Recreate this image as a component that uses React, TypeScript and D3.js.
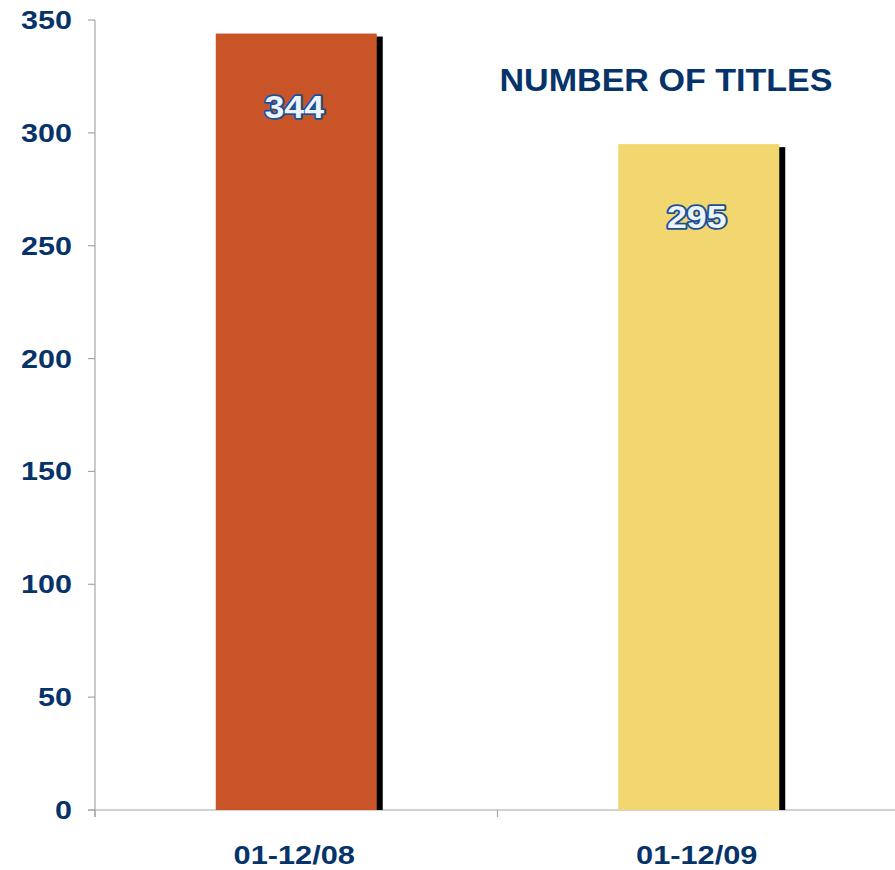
import React, { useRef, useEffect } from "react";
import * as d3 from "d3";

const categories = ["01-12/08", "01-12/09"];
const values = [344, 295];
const barColors = ["#C85428", "#F2D66F"];
const yTicks = [0, 50, 100, 150, 200, 250, 300, 350];
const title = "NUMBER OF TITLES";

const width = 895;
const height = 870;
const navy = "#06346A";
const font = "'Liberation Sans', Arial, sans-serif";

const App: React.FC = () => {
  const svgRef = useRef<SVGSVGElement | null>(null);

  useEffect(() => {
    const svg = d3.select(svgRef.current);
    svg.selectAll("*").remove();

    const x0 = 95;
    const x1 = 900;
    const y = d3.scaleLinear().domain([0, 350]).range([810, 20]);
    const x = d3
      .scaleBand<string>()
      .domain(categories)
      .range([x0, x1])
      .paddingInner(0.6)
      .paddingOuter(0.3);

    // stretch text horizontally like the original
    const stretch = (sel: d3.Selection<SVGTextElement, any, any, any>, k: number) => {
      sel.each(function () {
        const w = this.getComputedTextLength();
        d3.select(this)
          .attr("textLength", w * k)
          .attr("lengthAdjust", "spacingAndGlyphs");
      });
    };

    // axes
    const axis = svg.append("g").attr("stroke", "#A6A6A6").attr("stroke-width", 1.2);
    axis.append("line").attr("x1", x0).attr("x2", x0).attr("y1", y(350)).attr("y2", 817);
    axis.append("line").attr("x1", 88).attr("x2", width).attr("y1", y(0)).attr("y2", y(0));
    yTicks.forEach((t) => {
      axis.append("line").attr("x1", 88).attr("x2", x0).attr("y1", y(t)).attr("y2", y(t));
    });
    [x0, x0 + (x1 - x0) / 2].forEach((tx) => {
      axis.append("line").attr("x1", tx).attr("x2", tx).attr("y1", y(0)).attr("y2", 817);
    });

    const yl = svg
      .append("g")
      .selectAll("text")
      .data(yTicks)
      .enter()
      .append("text")
      .attr("x", 72)
      .attr("y", (d) => y(d) + 9)
      .attr("text-anchor", "end")
      .attr("font-family", font)
      .attr("font-weight", "bold")
      .attr("font-size", 25)
      .attr("fill", navy)
      .text((d) => d);
    stretch(yl as any, 1.22);

    const band = (x1 - x0) / categories.length;
    const xl = svg
      .append("g")
      .selectAll("text")
      .data(categories)
      .enter()
      .append("text")
      .attr("x", (d, i) => x0 + band * i + band / 2 - 2)
      .attr("y", 864)
      .attr("text-anchor", "middle")
      .attr("font-family", font)
      .attr("font-weight", "bold")
      .attr("font-size", 25)
      .attr("fill", navy)
      .text((d) => d);
    stretch(xl as any, 1.23);

    // bars with shadow
    const bars = svg.append("g").selectAll("g").data(categories).enter().append("g");
    bars
      .append("rect")
      .attr("x", (d) => (x(d) as number) + 6)
      .attr("y", (d, i) => y(values[i]) + 3)
      .attr("width", x.bandwidth())
      .attr("height", (d, i) => y(0) - y(values[i]) - 3)
      .attr("fill", "#000");
    bars
      .append("rect")
      .attr("x", (d) => x(d) as number)
      .attr("y", (d, i) => y(values[i]))
      .attr("width", x.bandwidth())
      .attr("height", (d, i) => y(0) - y(values[i]))
      .attr("fill", (d, i) => barColors[i]);

    const vl = bars
      .append("text")
      .attr("x", (d) => (x(d) as number) + x.bandwidth() / 2 - 2)
      .attr("y", (d, i) => y(values[i]) + 84)
      .attr("text-anchor", "middle")
      .attr("font-family", font)
      .attr("font-weight", "bold")
      .attr("font-size", 31)
      .attr("fill", "#EEF4FC")
      .attr("stroke", "#1B4F93")
      .attr("stroke-width", 3.5)
      .attr("stroke-linejoin", "round")
      .attr("paint-order", "stroke")
      .text((d, i) => values[i]);
    stretch(vl as any, 1.15);

    svg
      .append("text")
      .attr("x", 666)
      .attr("y", 91)
      .attr("text-anchor", "middle")
      .attr("font-family", font)
      .attr("font-weight", "bold")
      .attr("font-size", 31)
      .attr("fill", navy)
      .attr("textLength", 333)
      .attr("lengthAdjust", "spacingAndGlyphs")
      .text(title);
  }, []);

  return (
    <svg
      ref={svgRef}
      width={width}
      height={height}
      style={{ position: "absolute", left: 0, top: 0, background: "#fff" }}
    />
  );
};

export default App;
